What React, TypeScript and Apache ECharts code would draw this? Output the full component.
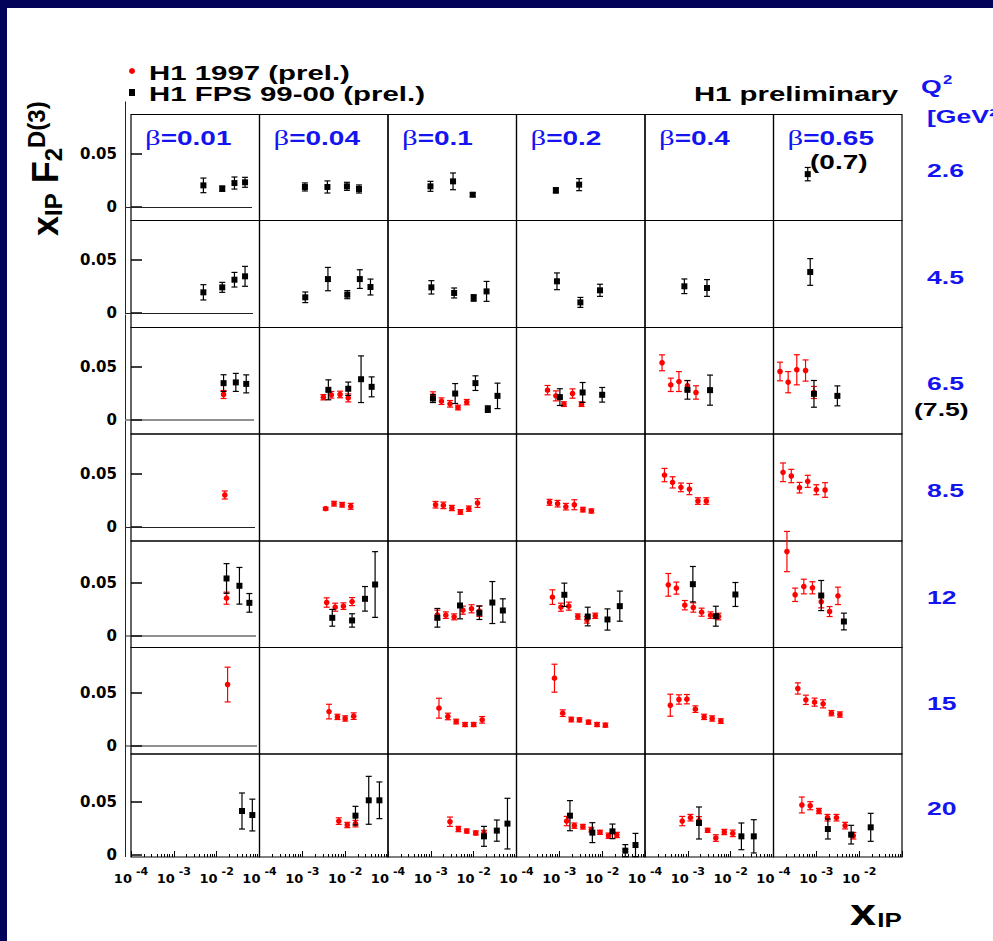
import React, { useEffect, useRef } from 'react';
import * as echarts from 'echarts';

// ---------------- labels / categories ----------------
const betaValues = ['0.01', '0.04', '0.1', '0.2', '0.4', '0.65'];
const q2Values = ['2.6', '4.5', '6.5', '8.5', '12', '15', '20'];
const xLabelTicks = [1e-4, 1e-3, 1e-2];
const xMajorTicks = [1e-4, 1e-3, 1e-2, 1e-1];
const yLabelTicks = [0, 0.05];

// ---------------- data: [betaIndex, xIP, xIP*F2D3, error] ----------------
// H1 1997 (prel.)  (red)
const h1_1997_q2_2_6: number[][] = [];
const h1_1997_q2_4_5: number[][] = [];
const h1_1997_q2_6_5 = [
  [0, 1.45e-2, 0.0236, 0.0038],
  [1, 3.1e-3, 0.021, 0.0025], [1, 4.75e-3, 0.0233, 0.0031], [1, 7.6e-3, 0.0236, 0.0031], [1, 1.18e-2, 0.0204, 0.0038],
  [2, 1.12e-3, 0.0223, 0.0038], [2, 1.77e-3, 0.0173, 0.0031], [2, 2.8e-3, 0.0148, 0.0031], [2, 4.3e-3, 0.0113, 0.0022], [2, 6.9e-3, 0.0164, 0.0025],
  [3, 5.3e-4, 0.0277, 0.0044], [3, 8.3e-4, 0.0223, 0.0047], [3, 1.28e-3, 0.0145, 0.0022], [3, 2.03e-3, 0.0245, 0.0044], [3, 3.3e-3, 0.0145, 0.0022],
  [4, 2.5e-4, 0.0535, 0.0075], [4, 4.0e-4, 0.0327, 0.0063], [4, 6.2e-4, 0.0358, 0.0094], [4, 9.8e-4, 0.032, 0.0047], [4, 1.55e-3, 0.0255, 0.0063],
  [5, 1.42e-4, 0.0453, 0.0088], [5, 2.2e-4, 0.0352, 0.01], [5, 3.5e-4, 0.0469, 0.0142], [5, 5.6e-4, 0.0462, 0.01], [5, 8.8e-4, 0.0255, 0.0057],
];
const h1_1997_q2_8_5 = [
  [0, 1.55e-2, 0.0302, 0.0038],
  [1, 3.5e-3, 0.0173, 0.0013], [1, 5.5e-3, 0.022, 0.0022], [1, 8.5e-3, 0.021, 0.0022], [1, 1.35e-2, 0.0195, 0.0028],
  [2, 1.29e-3, 0.021, 0.0031], [2, 1.96e-3, 0.0204, 0.0031], [2, 3.1e-3, 0.0179, 0.0025], [2, 4.9e-3, 0.0142, 0.0022], [2, 7.7e-3, 0.0173, 0.0025], [2, 1.23e-2, 0.0226, 0.0041],
  [3, 5.9e-4, 0.0233, 0.0028], [3, 9.1e-4, 0.022, 0.0031], [3, 1.42e-3, 0.0192, 0.0031], [3, 2.24e-3, 0.021, 0.0047], [3, 3.55e-3, 0.0164, 0.0022], [3, 5.6e-3, 0.0151, 0.0019],
  [4, 2.85e-4, 0.049, 0.0063], [4, 4.4e-4, 0.0421, 0.0053], [4, 6.9e-4, 0.0374, 0.0041], [4, 1.09e-3, 0.0358, 0.0053], [4, 1.72e-3, 0.0245, 0.0031], [4, 2.7e-3, 0.0245, 0.0031],
  [5, 1.67e-4, 0.0516, 0.0088], [5, 2.6e-4, 0.0481, 0.0063], [5, 4.05e-4, 0.0371, 0.005], [5, 6.3e-4, 0.0431, 0.0057], [5, 1.0e-3, 0.0352, 0.0047], [5, 1.6e-3, 0.0349, 0.0069],
];
const h1_1997_q2_12 = [
  [0, 1.7e-2, 0.0352, 0.0057],
  [1, 3.7e-3, 0.0311, 0.0044], [1, 5.85e-3, 0.0267, 0.0038], [1, 9.1e-3, 0.0277, 0.0031], [1, 1.45e-2, 0.032, 0.0038],
  [2, 1.42e-3, 0.0195, 0.0044], [2, 2.24e-3, 0.0192, 0.0031], [2, 3.5e-3, 0.0176, 0.0028], [2, 5.6e-3, 0.0239, 0.0038], [2, 8.9e-3, 0.0252, 0.0038], [2, 1.36e-2, 0.023, 0.005],
  [3, 6.9e-4, 0.0362, 0.0069], [3, 1.09e-3, 0.0267, 0.0038], [3, 1.66e-3, 0.0277, 0.0038], [3, 2.7e-3, 0.0179, 0.0025], [3, 4.4e-3, 0.0148, 0.0031], [3, 6.9e-3, 0.0186, 0.0025],
  [4, 3.5e-4, 0.0478, 0.0107], [4, 5.4e-4, 0.0447, 0.0057], [4, 8.5e-4, 0.0286, 0.0044], [4, 1.34e-3, 0.0264, 0.0044], [4, 2.1e-3, 0.022, 0.0038], [4, 3.4e-3, 0.0192, 0.0031], [4, 5.2e-3, 0.0179, 0.0031],
  [5, 2.06e-4, 0.0792, 0.019], [5, 3.2e-4, 0.0384, 0.0063], [5, 5.1e-4, 0.0462, 0.0069], [5, 8.1e-4, 0.045, 0.0057], [5, 1.3e-3, 0.0318, 0.0057], [5, 2.04e-3, 0.0226, 0.0047], [5, 3.2e-3, 0.0374, 0.0082],
];
const h1_1997_q2_15 = [
  [0, 1.8e-2, 0.0575, 0.0164],
  [1, 4.2e-3, 0.032, 0.0069], [1, 6.6e-3, 0.027, 0.0025], [1, 1.0e-2, 0.0255, 0.0025], [1, 1.58e-2, 0.0277, 0.0031],
  [2, 1.55e-3, 0.0352, 0.0094], [2, 2.5e-3, 0.0274, 0.0031], [2, 3.9e-3, 0.0226, 0.0022], [2, 6.3e-3, 0.0198, 0.0019], [2, 1.0e-2, 0.0198, 0.0019], [2, 1.58e-2, 0.0242, 0.0031],
  [3, 7.7e-4, 0.0635, 0.0132], [3, 1.2e-3, 0.0305, 0.0031], [3, 1.9e-3, 0.0245, 0.0022], [3, 2.95e-3, 0.0242, 0.0019], [3, 4.8e-3, 0.022, 0.0019], [3, 7.6e-3, 0.0198, 0.0019], [3, 1.19e-2, 0.0192, 0.0019],
  [4, 3.9e-4, 0.038, 0.0104], [4, 6.2e-4, 0.0434, 0.0044], [4, 9.5e-4, 0.0437, 0.0044], [4, 1.5e-3, 0.0343, 0.0031], [4, 2.4e-3, 0.027, 0.0025], [4, 3.7e-3, 0.0255, 0.0025], [4, 5.9e-3, 0.023, 0.0022],
  [5, 3.7e-4, 0.0538, 0.0053], [5, 5.7e-4, 0.0431, 0.0044], [5, 9.1e-4, 0.0409, 0.0038], [5, 1.44e-3, 0.0393, 0.0038], [5, 2.25e-3, 0.0305, 0.0025], [5, 3.55e-3, 0.0292, 0.0025],
];
const h1_1997_q2_20 = [
  [1, 7.1e-3, 0.032, 0.0031], [1, 1.12e-2, 0.0283, 0.0025], [1, 1.74e-2, 0.0296, 0.0031],
  [2, 2.8e-3, 0.0314, 0.0044], [2, 4.4e-3, 0.0245, 0.0025], [2, 6.9e-3, 0.0226, 0.0019], [2, 1.12e-2, 0.0208, 0.0019], [2, 1.74e-2, 0.0208, 0.0025],
  [3, 1.48e-3, 0.032, 0.0044], [3, 2.24e-3, 0.0277, 0.0025], [3, 3.55e-3, 0.0267, 0.0022], [3, 5.6e-3, 0.0239, 0.0022], [3, 8.9e-3, 0.0214, 0.0019], [3, 1.41e-2, 0.0182, 0.0025], [3, 2.2e-2, 0.0189, 0.0025],
  [4, 7.4e-4, 0.032, 0.0044], [4, 1.15e-3, 0.0352, 0.0031], [4, 1.82e-3, 0.0324, 0.0038], [4, 2.9e-3, 0.0233, 0.0019], [4, 4.5e-3, 0.016, 0.0031], [4, 7.1e-3, 0.0217, 0.0025], [4, 1.12e-2, 0.0204, 0.0031],
  [5, 4.6e-4, 0.0472, 0.0075], [5, 7.2e-4, 0.0465, 0.0038], [5, 1.15e-3, 0.0415, 0.0025], [5, 1.82e-3, 0.0352, 0.0031], [5, 2.95e-3, 0.0352, 0.0031], [5, 4.7e-3, 0.0277, 0.0031], [5, 7.3e-3, 0.0182, 0.0031],
];

// H1 FPS 99-00 (prel.)  (black)
const h1_fps_q2_2_6 = [
  [0, 4.9e-3, 0.0204, 0.0069], [0, 1.35e-2, 0.0173, 0.0025], [0, 2.6e-2, 0.0226, 0.0057], [0, 4.6e-2, 0.0233, 0.0047],
  [1, 1.15e-3, 0.0189, 0.0038], [1, 3.85e-3, 0.0189, 0.0057], [1, 1.1e-2, 0.0195, 0.0038], [1, 2.1e-2, 0.017, 0.0038],
  [2, 9.8e-4, 0.0195, 0.0047], [2, 3.3e-3, 0.0242, 0.0079], [2, 9.5e-3, 0.0116, 0.0019],
  [3, 8.3e-4, 0.0157, 0.0025], [3, 2.9e-3, 0.0211, 0.0057],
  [5, 6.3e-4, 0.031, 0.0063],
];
const h1_fps_q2_4_5 = [
  [0, 4.9e-3, 0.0195, 0.0072], [0, 1.35e-2, 0.0242, 0.0047], [0, 2.6e-2, 0.0314, 0.0069], [0, 4.6e-2, 0.0346, 0.0094],
  [1, 1.17e-3, 0.0148, 0.005], [1, 3.96e-3, 0.032, 0.011], [1, 1.12e-2, 0.0173, 0.0038], [1, 2.2e-2, 0.032, 0.0088], [1, 3.9e-2, 0.0245, 0.0075],
  [2, 1.03e-3, 0.0242, 0.0063], [2, 3.5e-3, 0.0189, 0.0047], [2, 1.0e-2, 0.0142, 0.0031], [2, 2.0e-2, 0.0204, 0.0094],
  [3, 8.8e-4, 0.0299, 0.0079], [3, 3.1e-3, 0.01, 0.0047], [3, 8.9e-3, 0.0214, 0.0057],
  [4, 8.3e-4, 0.0252, 0.0069], [4, 2.8e-3, 0.0236, 0.0079],
  [5, 7.2e-4, 0.0387, 0.0126],
];
const h1_fps_q2_6_5 = [
  [0, 1.45e-2, 0.0343, 0.0079], [0, 2.8e-2, 0.035, 0.0085], [0, 4.9e-2, 0.0336, 0.0085],
  [1, 4.05e-3, 0.028, 0.0094], [1, 1.18e-2, 0.029, 0.0063], [1, 2.35e-2, 0.038, 0.022], [1, 4.15e-2, 0.0308, 0.0094],
  [2, 1.12e-3, 0.0198, 0.0038], [2, 3.7e-3, 0.0245, 0.0094], [2, 1.1e-2, 0.0343, 0.0069], [2, 2.14e-2, 0.0098, 0.0031], [2, 3.6e-2, 0.0223, 0.012],
  [3, 1.03e-3, 0.0211, 0.0079], [3, 3.5e-3, 0.0255, 0.0094], [3, 1.0e-2, 0.0233, 0.0069],
  [4, 9.8e-4, 0.028, 0.0088], [4, 3.3e-3, 0.0277, 0.0142],
  [5, 8.8e-4, 0.0242, 0.0126], [5, 3.1e-3, 0.0223, 0.0094],
];
const h1_fps_q2_8_5: number[][] = [];
const h1_fps_q2_12 = [
  [0, 1.7e-2, 0.0538, 0.014], [0, 3.4e-2, 0.0469, 0.0173], [0, 5.8e-2, 0.0308, 0.0088],
  [1, 5.0e-3, 0.0167, 0.0079], [1, 1.45e-2, 0.0142, 0.0063], [1, 2.9e-2, 0.0346, 0.0116], [1, 5.0e-2, 0.0481, 0.031],
  [2, 1.42e-3, 0.0167, 0.0088], [2, 4.8e-3, 0.0283, 0.0126], [2, 1.36e-2, 0.0214, 0.0063], [2, 2.73e-2, 0.0311, 0.0198], [2, 4.8e-2, 0.0236, 0.011],
  [3, 1.31e-3, 0.0384, 0.011], [3, 4.6e-3, 0.0179, 0.0088], [3, 1.33e-2, 0.0151, 0.01], [3, 2.58e-2, 0.0277, 0.0142],
  [4, 1.31e-3, 0.0484, 0.0167], [4, 4.5e-3, 0.0182, 0.0094], [4, 1.29e-2, 0.0387, 0.0113],
  [5, 1.3e-3, 0.0377, 0.0142], [5, 4.4e-3, 0.0132, 0.0079],
];
const h1_fps_q2_15: number[][] = [];
const h1_fps_q2_20 = [
  [0, 3.9e-2, 0.0415, 0.017], [0, 6.8e-2, 0.0377, 0.015],
  [1, 1.74e-2, 0.0371, 0.0088], [1, 3.55e-2, 0.0516, 0.0226], [1, 6.3e-2, 0.0516, 0.0173],
  [2, 1.74e-2, 0.0176, 0.0094], [2, 3.47e-2, 0.023, 0.01], [2, 6.15e-2, 0.0296, 0.0239],
  [3, 1.77e-3, 0.0371, 0.0142], [3, 5.9e-3, 0.0211, 0.0094], [3, 1.74e-2, 0.0223, 0.0069], [3, 3.47e-2, 0.0041, 0.0057], [3, 6.0e-2, 0.0094, 0.011],
  [4, 1.82e-3, 0.0302, 0.0151], [4, 1.78e-2, 0.0176, 0.0126], [4, 3.47e-2, 0.0176, 0.0157],
  [5, 1.86e-3, 0.0245, 0.0094], [5, 6.5e-3, 0.0192, 0.0088], [5, 1.86e-2, 0.0261, 0.0132],
];

const h1_1997 = [h1_1997_q2_2_6, h1_1997_q2_4_5, h1_1997_q2_6_5, h1_1997_q2_8_5, h1_1997_q2_12, h1_1997_q2_15, h1_1997_q2_20];
const h1_fps = [h1_fps_q2_2_6, h1_fps_q2_4_5, h1_fps_q2_6_5, h1_fps_q2_8_5, h1_fps_q2_12, h1_fps_q2_15, h1_fps_q2_20];

// ---------------- layout / style ----------------
const COL_LEFT = [131, 259.5, 388, 516.5, 645, 773.5];
const COL_W = 128.5;
const ROW_TOP = [114.5, 220.5, 327.5, 434, 541, 647.5, 754];
const ROW_BOT = [220.5, 327.5, 434, 541, 647.5, 754, 857];
const ROW_ZERO = [207, 313, 419.5, 527, 635.5, 745.5, 855];
const PX_PER_UNIT = 1060;
const NAVY = '#03035a';
const RED = '#ff0000';
const BLACK = '#000000';
const BLUE = '#1414f0';
const SANS = "'Liberation Sans', Arial, Helvetica, sans-serif";
const WIDE = "'DejaVu Sans', Verdana, sans-serif";
const SERIF = "'Liberation Serif', 'DejaVu Serif', serif";
const STRETCH = 1.4;

function minorTicks(): number[] {
  const out: number[] = [];
  for (let e = -4; e <= -2; e++) for (let m = 2; m <= 9; m++) out.push(m * Math.pow(10, e));
  return out;
}

function label(x: number, y: number, text: string, size: number, fill: string, align = 'left', extra: any = {}) {
  return {
    type: 'text', x, y, scaleX: STRETCH, z: 50, silent: true,
    style: {
      text, fill, fontFamily: SANS, fontWeight: 'bold', fontSize: size,
      align, textAlign: align, verticalAlign: 'middle', textVerticalAlign: 'middle', ...extra,
    },
  };
}

function renderPoint(params: any, api: any) {
  const xv = api.value(0);
  const yv = api.value(1);
  const ev = api.value(2);
  const kind = api.value(3);
  const c = api.coord([xv, yv]);
  const t = api.coord([xv, yv + ev]);
  const b = api.coord([xv, yv - ev]);
  const col = kind === 0 ? RED : BLACK;
  const cap = 3;
  const ls = { stroke: col, lineWidth: 1.2 };
  return {
    type: 'group',
    children: [
      { type: 'line', shape: { x1: c[0], y1: t[1], x2: c[0], y2: b[1] }, style: ls },
      { type: 'line', shape: { x1: c[0] - cap, y1: t[1], x2: c[0] + cap, y2: t[1] }, style: ls },
      { type: 'line', shape: { x1: c[0] - cap, y1: b[1], x2: c[0] + cap, y2: b[1] }, style: ls },
      kind === 0
        ? { type: 'circle', shape: { cx: c[0], cy: c[1], r: 2.8 }, style: { fill: col } }
        : { type: 'rect', shape: { x: c[0] - 3, y: c[1] - 3, width: 6, height: 6 }, style: { fill: col } },
    ],
  };
}

function buildOption() {
  const grid: any[] = [];
  const xAxis: any[] = [];
  const yAxis: any[] = [];
  const series: any[] = [];
  const extraX: any[] = [];
  const nRows = q2Values.length;
  const nCols = betaValues.length;

  for (let r = 0; r < nRows; r++) {
    for (let c = 0; c < nCols; c++) {
      const idx = r * nCols + c;
      const bottomRow = r === nRows - 1;
      grid.push({
        left: COL_LEFT[c], top: ROW_TOP[r], width: COL_W, height: ROW_BOT[r] - ROW_TOP[r],
        show: true, borderColor: '#000', borderWidth: 1.2, backgroundColor: 'transparent',
      });
      xAxis.push({
        type: 'log', logBase: 10, gridIndex: idx, min: 1e-4, max: 1e-1, position: 'bottom',
        axisLine: { show: false, onZero: false },
        splitLine: { show: false },
        axisTick: bottomRow
          ? { show: true, inside: true, length: 6, customValues: xMajorTicks, lineStyle: { color: '#000', width: 1 } }
          : { show: false },
        axisLabel: bottomRow
          ? {
              show: true, customValues: xLabelTicks, margin: 9,
              formatter: (v: number) => `{b|10}{s|${Math.round(Math.log10(v))}}`,
              rich: {
                b: { fontFamily: WIDE, fontWeight: 'bold', fontSize: 13, color: '#000' },
                s: { fontFamily: WIDE, fontWeight: 'bold', fontSize: 11, color: '#000', padding: [0, 0, 13, 4] },
              },
            }
          : { show: false },
      });
      if (bottomRow) {
        extraX.push({
          type: 'log', logBase: 10, gridIndex: idx, min: 1e-4, max: 1e-1, position: 'bottom',
          axisLine: { show: false, onZero: false }, splitLine: { show: false }, axisLabel: { show: false },
          axisTick: { show: true, inside: true, length: 3, customValues: minorTicks(), lineStyle: { color: '#000', width: 1 } },
        });
      }
      yAxis.push({
        type: 'value', gridIndex: idx,
        min: -(ROW_BOT[r] - ROW_ZERO[r]) / PX_PER_UNIT,
        max: (ROW_ZERO[r] - ROW_TOP[r]) / PX_PER_UNIT,
        axisLine: { show: false, onZero: false },
        splitLine: { show: false },
        axisTick: c === 0
          ? { show: true, inside: true, length: 11, customValues: yLabelTicks, lineStyle: { color: '#000', width: 1.5 } }
          : { show: false },
        axisLabel: c === 0
          ? {
              show: true, customValues: yLabelTicks, margin: 14,
              formatter: (v: number) => String(v),
              fontFamily: WIDE, fontWeight: 'bold', fontSize: 15, color: '#000',
            }
          : { show: false },
      });
      const pts: number[][] = [];
      h1_1997[r].filter((p) => p[0] === c).forEach((p) => pts.push([p[1], p[2], p[3], 0]));
      h1_fps[r].filter((p) => p[0] === c).forEach((p) => pts.push([p[1], p[2], p[3], 1]));
      series.push({
        type: 'custom', coordinateSystem: 'cartesian2d', xAxisIndex: idx, yAxisIndex: idx,
        dimensions: ['x', 'y', 'err', 'kind'], encode: { x: 0, y: 1 },
        data: pts, renderItem: renderPoint, clip: false, silent: true, z: 5,
      });
    }
  }

  // ---------- graphics: titles, legend, labels ----------
  const g: any[] = [];
  // legend
  g.push({ type: 'circle', shape: { cx: 132, cy: 71, r: 3 }, style: { fill: RED }, z: 50 });
  g.push({ type: 'rect', shape: { x: 129, y: 89, width: 6, height: 7 }, style: { fill: BLACK }, z: 50 });
  g.push(label(149, 72.5, 'H1 1997 (prel.)', 21, BLACK));
  g.push(label(149, 93.5, 'H1 FPS 99-00 (prel.)', 21, BLACK));
  g.push(label(898, 93.5, 'H1 preliminary', 21, BLACK, 'right'));

  // beta labels
  betaValues.forEach((b, c) => {
    g.push({
      type: 'text', x: COL_LEFT[c] + 14, y: 138, scaleX: STRETCH, z: 50, silent: true,
      style: {
        text: `{g|β}{t|=${b}}`, align: 'left', textAlign: 'left', verticalAlign: 'middle', textVerticalAlign: 'middle',
        rich: {
          g: { fontFamily: SERIF, fontSize: 22, fill: BLUE, color: BLUE },
          t: { fontFamily: SANS, fontWeight: 'bold', fontSize: 20, fill: BLUE, color: BLUE },
        },
      },
    });
  });
  g.push(label(810, 162, '(0.7)', 20, BLACK));

  // Q2 header and values
  g.push({
    type: 'text', x: 921, y: 86, scaleX: STRETCH, z: 50, silent: true,
    style: {
      text: '{q|Q}{s|2}', align: 'left', textAlign: 'left', verticalAlign: 'middle', textVerticalAlign: 'middle',
      rich: {
        q: { fontFamily: SANS, fontWeight: 'bold', fontSize: 19, fill: BLUE, color: BLUE },
        s: { fontFamily: SANS, fontWeight: 'bold', fontSize: 12, fill: BLUE, color: BLUE, padding: [0, 0, 12, 1] },
      },
    },
  });
  g.push(label(927, 116, '[GeV²]', 19, BLUE));
  q2Values.forEach((q, r) => {
    g.push(label(927, (ROW_TOP[r] + ROW_BOT[r]) / 2 + 3, q, 19, BLUE));
  });
  g.push(label(914, 409, '(7.5)', 19, BLACK));

  // axis titles
  g.push({
    type: 'text', x: 850, y: 912, scaleX: 1.3, z: 50, silent: true,
    style: {
      text: '{x|x}{s|IP}', align: 'left', textAlign: 'left', verticalAlign: 'middle', textVerticalAlign: 'middle',
      rich: {
        x: { fontFamily: SANS, fontWeight: 'bold', fontSize: 36, fill: BLACK, color: BLACK },
        s: { fontFamily: SANS, fontWeight: 'bold', fontSize: 20, fill: BLACK, color: BLACK, padding: [16, 0, 0, 1] },
      },
    },
  });
  g.push({
    type: 'text', x: 45, y: 236, rotation: Math.PI / 2, z: 50, silent: true,
    style: {
      text: '{x|x}{s|IP}{f| F}{s|2}{u|D(3)}', align: 'left', textAlign: 'left', verticalAlign: 'middle', textVerticalAlign: 'middle',
      rich: {
        x: { fontFamily: SANS, fontWeight: 'bold', fontSize: 36, fill: BLACK, color: BLACK },
        f: { fontFamily: SANS, fontWeight: 'bold', fontSize: 36, fill: BLACK, color: BLACK },
        s: { fontFamily: SANS, fontWeight: 'bold', fontSize: 24, fill: BLACK, color: BLACK, padding: [16, 0, 0, 0] },
        u: { fontFamily: SANS, fontWeight: 'bold', fontSize: 24, fill: BLACK, color: BLACK, padding: [0, 0, 18, 0] },
      },
    },
  });

  // offset pad frames of the first column (as in the original ROOT canvas)
  for (let r = 0; r < nRows; r++) {
    const last = r === nRows - 1;
    const y2 = last ? ROW_BOT[r] : ROW_ZERO[r];
    g.push({ type: 'line', shape: { x1: 125.5, y1: ROW_TOP[r] - 13, x2: 125.5, y2 }, style: { stroke: '#222', lineWidth: 1 }, z: 1, silent: true });
    if (!last) {
      g.push({ type: 'line', shape: { x1: 125, y1: ROW_ZERO[r] + 0.5, x2: 252 + r, y2: ROW_ZERO[r] + 0.5 }, style: { stroke: '#222', lineWidth: 1 }, z: 1, silent: true });
    }
  }

  return {
    animation: false,
    backgroundColor: 'transparent',
    grid,
    xAxis: xAxis.concat(extraX),
    yAxis,
    series,
    graphic: { elements: g },
  };
}

export default function App() {
  const ref = useRef<HTMLDivElement>(null);
  useEffect(() => {
    if (!ref.current) return;
    const chart = echarts.init(ref.current, undefined, { renderer: 'svg' });
    chart.setOption(buildOption() as any);
    return () => chart.dispose();
  }, []);
  return (
    <div style={{ position: 'fixed', left: 0, top: 0, width: 993, height: 941, background: NAVY, overflow: 'hidden' }}>
      <div style={{ position: 'absolute', left: 7, top: 8, right: 0, bottom: 0, background: '#ffffff' }} />
      <div ref={ref} style={{ position: 'absolute', left: 0, top: 0, width: 993, height: 941 }} />
    </div>
  );
}
